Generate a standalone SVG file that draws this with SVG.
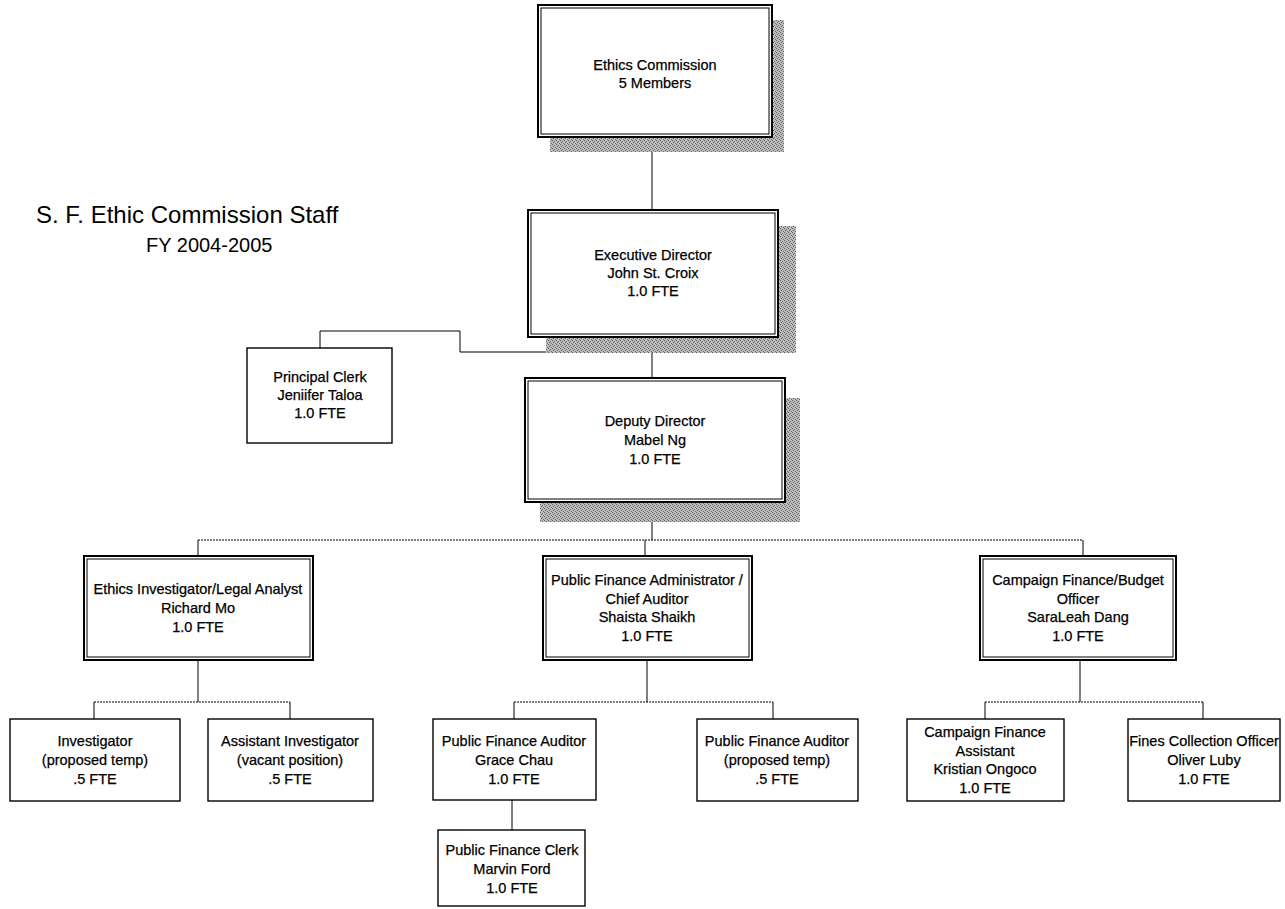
<svg xmlns="http://www.w3.org/2000/svg" width="1285" height="909" viewBox="0 0 1285 909">
<defs>
<pattern id="dither" width="4" height="4" patternUnits="userSpaceOnUse">
<rect width="4" height="4" fill="#bdbdbd"/>
<rect x="0" y="0" width="1" height="1" fill="#5a5a5a"/>
<rect x="2" y="1" width="1" height="1" fill="#6a6a6a"/>
<rect x="1" y="2" width="1" height="1" fill="#5a5a5a"/>
<rect x="3" y="3" width="1" height="1" fill="#6a6a6a"/>
</pattern>
</defs>
<style>
.bg{fill:#fff}
.shadow{fill:url(#dither)}
.outer{fill:#fff;stroke:#000;stroke-width:2}
.inner{fill:none;stroke:#000;stroke-width:1}
.single{fill:#fff;stroke:#000;stroke-width:1.4}
.t{font-family:"Liberation Sans",Arial,sans-serif;font-size:14.5px;fill:#000;stroke:#000;stroke-width:0.25;text-anchor:middle}
.title{font-family:"Liberation Sans",Arial,sans-serif;fill:#000}
.line{fill:none;stroke:#000;stroke-width:1}
.dot{fill:none;stroke:#000;stroke-width:1;stroke-dasharray:2 1}
</style>
<rect class="bg" width="1285" height="909"/>
<g id="title">
<text class="title" x="36" y="223" font-size="24">S. F. Ethic Commission Staff</text>
<text class="title" x="146" y="252" font-size="20">FY 2004-2005</text>
</g>
<g id="connectors">
<line class="line" x1="652" y1="152" x2="652" y2="210"/>
<polyline class="line" points="320,348 320,331 460,331 460,352 652,352"/>
<line class="line" x1="652" y1="337" x2="652" y2="378"/>
<line class="line" x1="652" y1="522" x2="652" y2="540"/>
<line class="dot" x1="198" y1="540" x2="1083" y2="540"/>
<line class="line" x1="198" y1="540" x2="198" y2="556"/>
<line class="line" x1="645" y1="540" x2="645" y2="556"/>
<line class="line" x1="1083" y1="540" x2="1083" y2="556"/>
<line class="line" x1="198" y1="660" x2="198" y2="702"/>
<line class="dot" x1="94" y1="702" x2="290" y2="702"/>
<line class="line" x1="94" y1="702" x2="94" y2="719"/>
<line class="line" x1="290" y1="702" x2="290" y2="719"/>
<line class="line" x1="647" y1="660" x2="647" y2="702"/>
<line class="dot" x1="514" y1="702" x2="773" y2="702"/>
<line class="line" x1="514" y1="702" x2="514" y2="719"/>
<line class="line" x1="773" y1="702" x2="773" y2="719"/>
<line class="line" x1="512" y1="800" x2="512" y2="830"/>
<line class="line" x1="1080" y1="660" x2="1080" y2="702"/>
<line class="dot" x1="985" y1="702" x2="1203" y2="702"/>
<line class="line" x1="985" y1="702" x2="985" y2="719"/>
<line class="line" x1="1203" y1="702" x2="1203" y2="719"/>
</g>
<g id="ethics-commission">
<rect class="shadow" x="550" y="20" width="234" height="132"/>
<rect class="outer" x="538" y="5" width="234" height="132"/>
<rect class="inner" x="541" y="8" width="228" height="126"/>
<text class="t" x="655" y="70">Ethics Commission</text>
<text class="t" x="655" y="88">5 Members</text>
</g>
<g id="executive-director">
<rect class="shadow" x="546" y="226" width="250" height="127"/>
<rect class="outer" x="528" y="210" width="250" height="127"/>
<rect class="inner" x="531" y="213" width="244" height="121"/>
<text class="t" x="653" y="260">Executive Director</text>
<text class="t" x="653" y="278">John St. Croix</text>
<text class="t" x="653" y="296">1.0 FTE</text>
</g>
<g id="principal-clerk">
<rect class="single" x="247" y="348" width="145" height="95"/>
<text class="t" x="320" y="382">Principal Clerk</text>
<text class="t" x="320" y="400">Jeniifer Taloa</text>
<text class="t" x="320" y="418">1.0 FTE</text>
</g>
<g id="deputy-director">
<rect class="shadow" x="540" y="398" width="260" height="124"/>
<rect class="outer" x="525" y="378" width="260" height="124"/>
<rect class="inner" x="528" y="381" width="254" height="118"/>
<text class="t" x="655" y="426">Deputy Director</text>
<text class="t" x="655" y="445">Mabel Ng</text>
<text class="t" x="655" y="464">1.0 FTE</text>
</g>
<g id="ethics-investigator">
<rect class="outer" x="84" y="556" width="229" height="104"/>
<rect class="inner" x="87" y="559" width="223" height="98"/>
<text class="t" x="198" y="594">Ethics Investigator/Legal Analyst</text>
<text class="t" x="198" y="613">Richard Mo</text>
<text class="t" x="198" y="632">1.0 FTE</text>
</g>
<g id="public-finance-admin">
<rect class="outer" x="543" y="556" width="209" height="104"/>
<rect class="inner" x="546" y="559" width="203" height="98"/>
<text class="t" x="647" y="585">Public Finance Administrator /</text>
<text class="t" x="647" y="604">Chief Auditor</text>
<text class="t" x="647" y="622">Shaista Shaikh</text>
<text class="t" x="647" y="641">1.0 FTE</text>
</g>
<g id="campaign-finance-officer">
<rect class="outer" x="980" y="556" width="196" height="104"/>
<rect class="inner" x="983" y="559" width="190" height="98"/>
<text class="t" x="1078" y="585">Campaign Finance/Budget</text>
<text class="t" x="1078" y="604">Officer</text>
<text class="t" x="1078" y="622">SaraLeah Dang</text>
<text class="t" x="1078" y="641">1.0 FTE</text>
</g>
<g id="investigator">
<rect class="single" x="10" y="719" width="170" height="82"/>
<text class="t" x="95" y="746">Investigator</text>
<text class="t" x="95" y="765">(proposed temp)</text>
<text class="t" x="95" y="784">.5 FTE</text>
</g>
<g id="assistant-investigator">
<rect class="single" x="208" y="719" width="165" height="82"/>
<text class="t" x="290" y="746">Assistant Investigator</text>
<text class="t" x="290" y="765">(vacant position)</text>
<text class="t" x="290" y="784">.5 FTE</text>
</g>
<g id="pf-auditor-grace">
<rect class="single" x="433" y="719" width="163" height="81"/>
<text class="t" x="514" y="746">Public Finance Auditor</text>
<text class="t" x="514" y="765">Grace Chau</text>
<text class="t" x="514" y="784">1.0 FTE</text>
</g>
<g id="pf-auditor-temp">
<rect class="single" x="697" y="719" width="161" height="82"/>
<text class="t" x="777" y="746">Public Finance Auditor</text>
<text class="t" x="777" y="765">(proposed temp)</text>
<text class="t" x="777" y="784">.5 FTE</text>
</g>
<g id="pf-clerk">
<rect class="single" x="438" y="830" width="147" height="76"/>
<text class="t" x="512" y="855">Public Finance Clerk</text>
<text class="t" x="512" y="874">Marvin Ford</text>
<text class="t" x="512" y="893">1.0 FTE</text>
</g>
<g id="campaign-finance-assistant">
<rect class="single" x="907" y="719" width="157" height="82"/>
<text class="t" x="985" y="737">Campaign Finance</text>
<text class="t" x="985" y="756">Assistant</text>
<text class="t" x="985" y="774">Kristian Ongoco</text>
<text class="t" x="985" y="793">1.0 FTE</text>
</g>
<g id="fines-collection">
<rect class="single" x="1128" y="719" width="152" height="82"/>
<text class="t" x="1204" y="746">Fines Collection Officer</text>
<text class="t" x="1204" y="765">Oliver Luby</text>
<text class="t" x="1204" y="784">1.0 FTE</text>
</g>
</svg>
